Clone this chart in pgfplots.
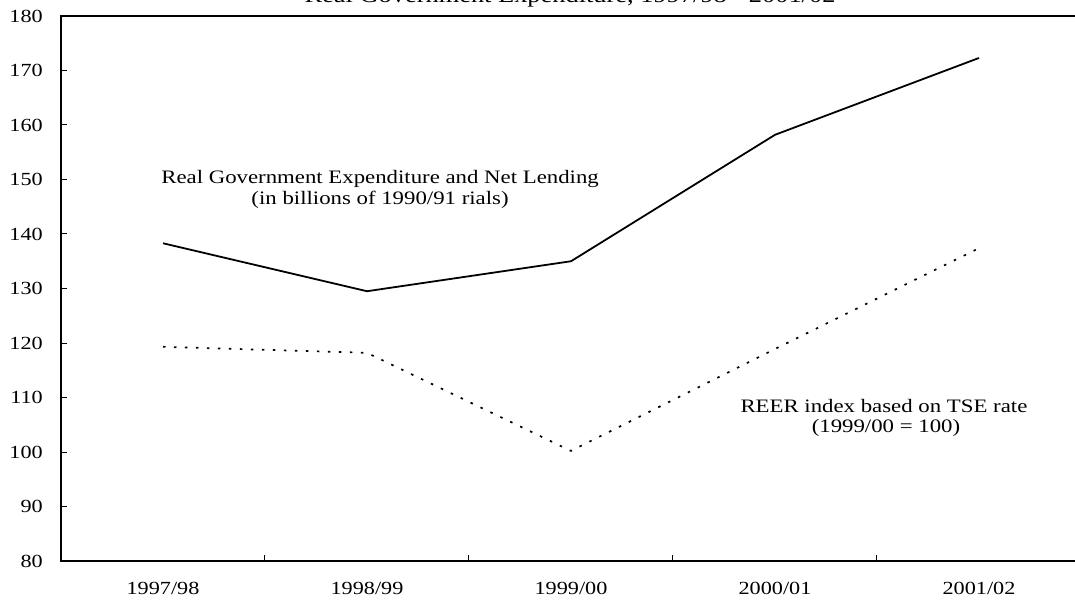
\documentclass[border=0pt]{standalone}
\usepackage{fontspec}
\setmainfont{Liberation Serif}
\newfontfamily\wide[FakeStretch=1.2]{Liberation Serif}
\usepackage{pgfplots}
\pgfplotsset{compat=1.18}
\begin{document}
\begin{tikzpicture}
\begin{axis}[scale only axis,
  width=1020pt, height=545pt,
  xmin=-0.5, xmax=4.5, ymin=80, ymax=180,
  ytick={80,90,...,180},
  xtick={0,...,4},
  xticklabels={1997/98,1998/99,1999/00,2000/01,2001/02},
  minor xtick={0.5,1.5,2.5,3.5},
  xtick pos=bottom, ytick pos=left,
  major x tick style={draw=none},
  major tick length=6pt, minor tick length=6pt,
  tick style={black, line width=1pt},
  axis line style={line width=1.8pt},
  /pgf/number format/assume math mode=true,
  tick label style={font=\wide\fontsize{18.5}{20}\selectfont},
  yticklabel style={anchor=east, inner sep=0pt, xshift=-18pt},
  xticklabel style={anchor=north, inner sep=0pt, yshift=-21pt},
  clip=false]
\addplot[black, line width=1.8pt] coordinates {(0,138.3) (1,129.5) (2,135.0) (3,158.2) (4,172.3)};
\addplot[black, line width=1.7pt, dash pattern=on 2.5pt off 8.5pt] coordinates {(0,119.3) (1,118.2) (2,100.2) (3,118.9) (4,137.4)};
\node[anchor=base, inner sep=0pt, font=\wide\fontsize{19}{21}\selectfont] at (axis cs:1.064,149.2) {Real Government Expenditure and Net Lending};
\node[anchor=base, inner sep=0pt, font=\wide\fontsize{19}{21}\selectfont] at (axis cs:1.064,145.5) {(in billions of 1990/91 rials)};
\node[anchor=base, inner sep=0pt, font=\wide\fontsize{19}{21}\selectfont] at (axis cs:3.534,107.2) {REER index based on TSE rate};
\node[anchor=base, inner sep=0pt, font=\wide\fontsize{19}{21}\selectfont] at (axis cs:3.544,103.5) {(1999/00 = 100)};
\end{axis}
\node[anchor=base, inner sep=0pt, font=\wide\fontsize{22}{24}\selectfont] at (509pt,558.5pt) {Real Government Expenditure, 1997/98 - 2001/02};
\pgfresetboundingbox
\useasboundingbox (-61pt,-42pt) rectangle (1014pt,561pt);
\end{tikzpicture}
\end{document}
